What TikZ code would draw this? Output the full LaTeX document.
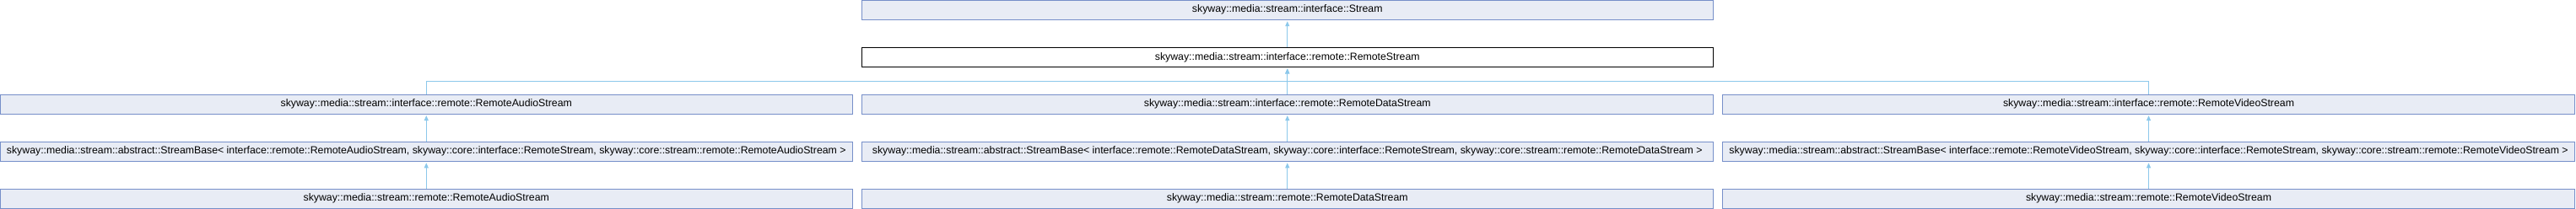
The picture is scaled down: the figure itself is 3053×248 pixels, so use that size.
\documentclass[tikz,border=0pt]{standalone}
\usepackage{fontspec}
\setmainfont{Liberation Sans}
\usetikzlibrary{arrows.meta}
\definecolor{boxfill}{RGB}{232,236,245}
\definecolor{boxline}{RGB}{118,143,201}
\definecolor{edgecol}{RGB}{140,200,235}
\tikzset{
  cls/.style={draw=boxline, fill=boxfill, line width=1pt, rectangle,
    minimum width=1009.5pt, minimum height=23pt, inner sep=0pt,
    font=\fontsize{12.3pt}{14pt}\selectfont, text=black},
  cur/.style={cls, draw=black, fill=white},
  inh/.style={draw=edgecol, line width=1pt,
    -{Triangle[width=5pt,length=6pt]}, shorten >=1.5pt}
}
\begin{document}
\begin{tikzpicture}[x=1pt,y=-1pt]
\useasboundingbox (0,0) rectangle (3053,248);
\node[cls] (stream) at (1525.75,11.75) {skyway::media::stream::interface::Stream};
\node[cur] (rs) at (1525.75,68) {skyway::media::stream::interface::remote::RemoteStream};
\node[cls] (ia) at (505.25,123.6) {skyway::media::stream::interface::remote::RemoteAudioStream};
\node[cls] (id) at (1525.75,123.6) {skyway::media::stream::interface::remote::RemoteDataStream};
\node[cls] (iv) at (2546.5,123.6) {skyway::media::stream::interface::remote::RemoteVideoStream};
\node[cls] (ba) at (505.25,179.8) {skyway::media::stream::abstract::StreamBase< interface::remote::RemoteAudioStream, skyway::core::interface::RemoteStream, skyway::core::stream::remote::RemoteAudioStream >};
\node[cls] (bd) at (1525.75,179.8) {skyway::media::stream::abstract::StreamBase< interface::remote::RemoteDataStream, skyway::core::interface::RemoteStream, skyway::core::stream::remote::RemoteDataStream >};
\node[cls] (bv) at (2546.5,179.8) {skyway::media::stream::abstract::StreamBase< interface::remote::RemoteVideoStream, skyway::core::interface::RemoteStream, skyway::core::stream::remote::RemoteVideoStream >};
\node[cls] (ra) at (505.25,235.8) {skyway::media::stream::remote::RemoteAudioStream};
\node[cls] (rd) at (1525.75,235.8) {skyway::media::stream::remote::RemoteDataStream};
\node[cls] (rv) at (2546.5,235.8) {skyway::media::stream::remote::RemoteVideoStream};
\coordinate (j) at (1525.75,96.5);
\draw[inh] (rs) -- (stream);
\draw[inh] (ia.north) |- (j) -- (rs.south);
\draw[inh] (id) -- (rs);
\draw[inh] (iv.north) |- (j) -- (rs.south);
\draw[inh] (ba) -- (ia);
\draw[inh] (bd) -- (id);
\draw[inh] (bv) -- (iv);
\draw[inh] (ra) -- (ba);
\draw[inh] (rd) -- (bd);
\draw[inh] (rv) -- (bv);
\end{tikzpicture}
\end{document}
